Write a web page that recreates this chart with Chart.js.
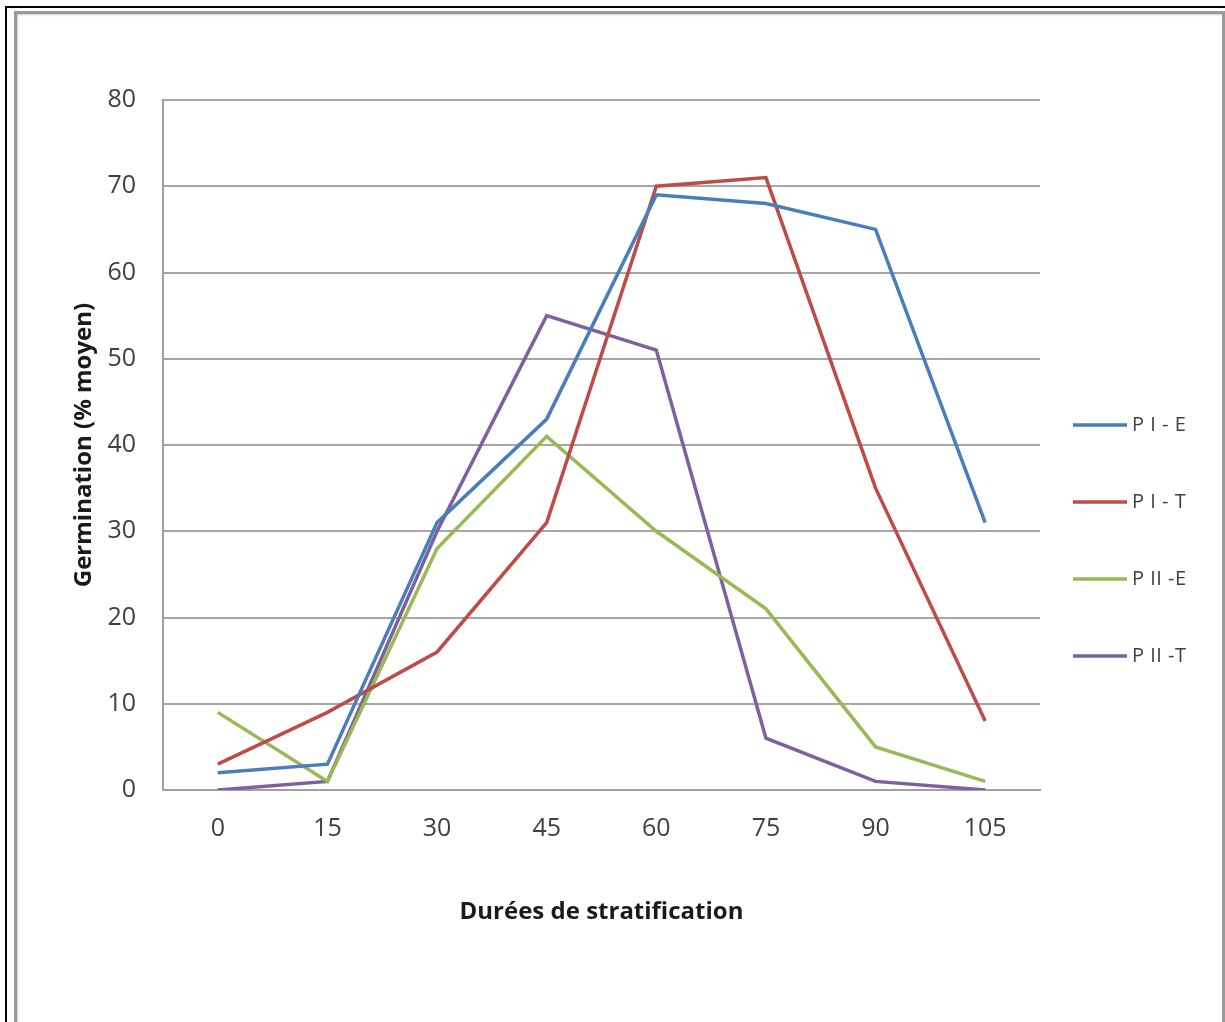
<!DOCTYPE html>
<html>
<head>
<meta charset="utf-8">
<script src="https://cdn.jsdelivr.net/npm/chart.js@4/dist/chart.umd.min.js"></script>
<style>
  html, body { margin: 0; padding: 0; background: #fff; }
  body { width: 1225px; height: 1022px; position: relative; overflow: hidden; }
  #outer { position: absolute; left: 5px; top: 6px; width: 1240px; height: 1040px; border-top: 2px solid #000; border-left: 2px solid #000; }
  #inner { position: absolute; left: 14px; top: 11px; width: 1205px; height: 1040px; border: 3px solid #9a9a9a; box-shadow: inset 1px 1px 2px #ccc; }
  #wrap { position: absolute; left: 0; top: 0; width: 1225px; height: 1022px; }
</style>
</head>
<body>
<div id="outer"></div>
<div id="inner"></div>
<div id="wrap"><canvas id="chart" width="1225" height="1022"></canvas></div>
<script>
// durées de stratification (jours)
var durees = ["0", "15", "30", "45", "60", "75", "90", "105"];

var seriesNames = ["P I - E", "P I - T", "P II -E", "P II -T"];
var pIE  = [2, 3, 31, 43, 69, 68, 65, 31];
var pIT  = [3, 9, 16, 31, 70, 71, 35, 8];
var pIIE = [9, 1, 28, 41, 30, 21, 5, 1];
var pIIT = [0, 1, 30, 55, 51, 6, 1, 0];

var colors = ["#4A7EBB", "#BE4B48", "#98B954", "#7D60A0"];

var tickFont = "'Open Sans', sans-serif";

var makeSet = function (i, values) {
    return {
        label: seriesNames[i],
        data: values,
        borderColor: colors[i],
        backgroundColor: colors[i],
        borderWidth: 3.5,
        pointRadius: 0,
        tension: 0,
        fill: false
    };
};

// legend drawn on the right, like the excel one
var sideLegend = {
    id: 'sideLegend',
    afterDraw: function (chart) {
        var ctx = chart.ctx;
        var area = chart.chartArea;
        var x0 = area.right + 33;
        var y0 = area.top + 325;
        ctx.save();
        ctx.font = "20px " + tickFont;
        ctx.letterSpacing = "0.5px";
        ctx.textBaseline = "middle";
        ctx.fillStyle = "#404040";
        chart.data.datasets.forEach(function (ds, i) {
            var y = y0 + i * 77;
            ctx.strokeStyle = ds.borderColor;
            ctx.lineWidth = 3.5;
            ctx.beginPath();
            ctx.moveTo(x0, y);
            ctx.lineTo(x0 + 54, y);
            ctx.stroke();
            ctx.fillText(ds.label, x0 + 59, y);
        });
        ctx.restore();
    }
};

var ctx = document.getElementById("chart").getContext("2d");
var chart = new Chart(ctx, {
    type: 'line',
    data: {
        labels: durees,
        datasets: [makeSet(0, pIE), makeSet(1, pIT), makeSet(2, pIIE), makeSet(3, pIIT)]
    },
    options: {
        responsive: false,
        animation: false,
        layout: { padding: { left: 40, top: 100, right: 185, bottom: 20 } },
        plugins: {
            legend: { display: false },
            tooltip: { enabled: false }
        },
        scales: {
            x: {
                offset: true,
                grid: { display: false },
                border: { display: true, color: "#a0a0a0", width: 2 },
                ticks: { color: "#404040", font: { family: tickFont, size: 25 }, padding: 16 },
                title: {
                    display: true,
                    text: "Durées de stratification",
                    color: "#1a1a1a",
                    font: { family: tickFont, size: 24, weight: "bold" },
                    padding: { top: 0, bottom: 75 }
                },
                afterFit: function (scale) { scale.height = 212; }
            },
            y: {
                min: 0,
                max: 80,
                ticks: { stepSize: 10, color: "#404040", font: { family: tickFont, size: 25 }, padding: 27 },
                grid: { color: "#a6a6a6", lineWidth: 2, drawTicks: false },
                border: { display: true, color: "#a0a0a0", width: 2 },
                title: {
                    display: true,
                    text: "Germination (% moyen)",
                    color: "#1a1a1a",
                    font: { family: tickFont, size: 24, weight: "bold" },
                    padding: { top: 30, bottom: 0 }
                },
                afterFit: function (scale) { scale.width = 123; }
            }
        }
    },
    plugins: [sideLegend]
});
</script>
</body>
</html>
